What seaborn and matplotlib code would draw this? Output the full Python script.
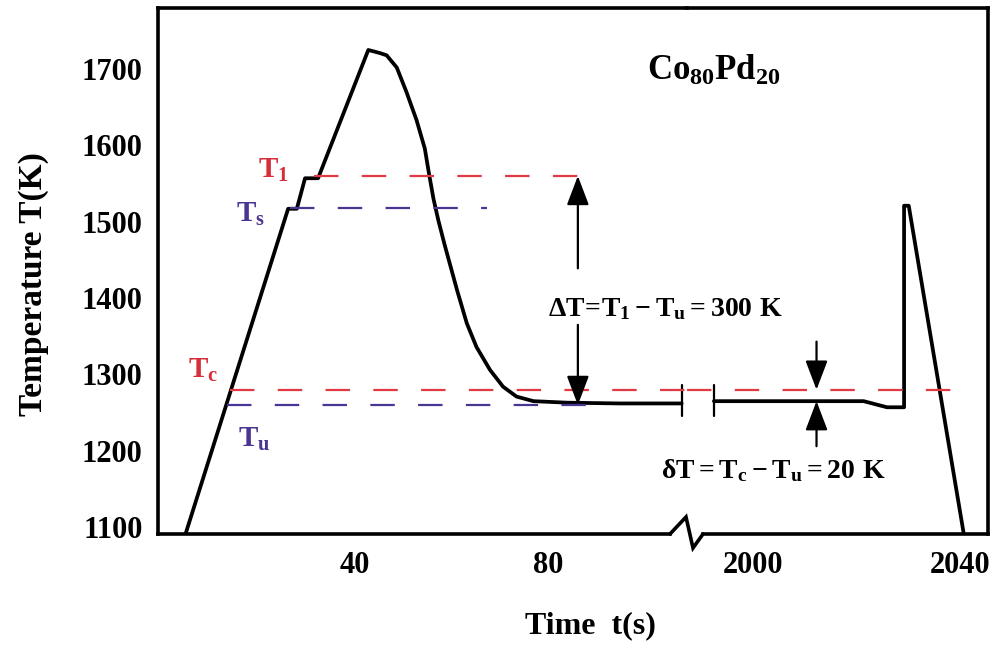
import numpy as np
import pandas as pd
import matplotlib
matplotlib.use("Agg")
import matplotlib.pyplot as plt
import seaborn as sns
from matplotlib.lines import Line2D

# ---------------- data ----------------
# heating / undercooling part (left panel, seconds)
t_heat = [4.8, 26.2, 28.0, 29.7, 32.4, 42.8, 45.2, 46.6, 48.7, 50.7, 52.8, 54.5,
          55.4, 56.3, 57.3, 58.6, 59.9, 61.2, 63.2, 65.2, 68.0, 70.7, 73.5, 77.0,
          84.0, 95.0, 107.7]
T_heat = [1088, 1517, 1517, 1557, 1557, 1725, 1721, 1718, 1702, 1670, 1633, 1596,
          1562, 1530, 1502, 1470, 1440, 1410, 1367, 1336, 1306, 1284, 1271, 1265,
          1263, 1262, 1262]
# long hold, recalescence and final cooling (right panel)
t_hold = [1992.5, 2021.4, 2025.9, 2029.2, 2029.2, 2030.1, 2040.8]
T_hold = [1265, 1265, 1257, 1257, 1521, 1521, 1088]

# break marks drawn on the curve
t_break_left = [107.7, 107.7]
t_break_right = [1992.5, 1992.5]
T_break = [1246, 1286]

# characteristic temperatures
T1, Ts, Tc, Tu = 1560, 1518, 1280, 1260
T1_span = [31.5, 87.7]
Ts_span = [26.6, 67.3]
Tc_span_left = [14.2, 108.8]
Tc_span_right = [1987.3, 2041.5]
Tu_span = [13.5, 90.0]

# arrows
t_dT = 86.2
dT_up = [1439, T1]
dT_down = [1365, Tu]
t_dt = 2012.3
dt_down = [1343, Tc]
dt_up = [1206, 1265]

# axes
xlim_left = [-0.75, 108.8]
xlim_right = [1987.3, 2045.4]
ylim = [1091, 1780]
xticks_left = [20, 40, 60, 80, 100]
xticklabels_left = ["", "40", "", "80", ""]
xticks_right = [2000, 2020, 2040]
xticklabels_right = ["2000", "", "2040"]
yticks = [1100, 1200, 1300, 1400, 1500, 1600, 1700]
yticklabels = [str(v) for v in yticks]

# text
title_txt = r"$Co_{80}Pd_{20}$"
lab_T1 = r"$T_1$"
lab_Ts = r"$T_s$"
lab_Tc = r"$T_c$"
lab_Tu = r"$T_u$"
dT_txt = r"$ΔT\!=\!T_1 - T_u = 300\ K$"
dt_txt = r"$δT = T_c - T_u = 20\ K$"
xlabel_txt = "Time  t(s)"
ylabel_txt = "Temperature T(K)"

# ---------------- style ----------------
sns.set_theme(style="white")
plt.rcParams["font.family"] = ["Liberation Serif", "DejaVu Serif"]
plt.rcParams["font.weight"] = "bold"
plt.rcParams["mathtext.fontset"] = "custom"
plt.rcParams["mathtext.rm"] = "Liberation Serif:bold"
plt.rcParams["mathtext.it"] = "Liberation Serif:bold"
plt.rcParams["mathtext.bf"] = "Liberation Serif:bold"

RED = "#e13a45"
RED_T = "#d42f3a"
PURPLE = "#4a3592"
BLACK = "black"

W, H = 1004, 645
fig = plt.figure(figsize=(W / 100, H / 100), dpi=100)
fig.patch.set_facecolor("white")

def fx(px):
    return px / W

def fy(py):
    return 1 - py / H

bottom = fy(534)
height = fy(8) - fy(534)
ax1 = fig.add_axes([fx(158), bottom, fx(687) - fx(158), height])
ax2 = fig.add_axes([fx(687), bottom, fx(988) - fx(687), height])
ax1.patch.set_visible(False)
ax2.patch.set_visible(False)

df_heat = pd.DataFrame({"t": t_heat, "T": T_heat})
df_hold = pd.DataFrame({"t": t_hold, "T": T_hold})

curve_kw = dict(color=BLACK, lw=2.7, estimator=None, sort=False, legend=False)
sns.lineplot(data=df_heat, x="t", y="T", ax=ax1, **curve_kw)
sns.lineplot(data=df_hold, x="t", y="T", ax=ax2, **curve_kw)
ax1.plot(t_break_left, T_break, color=BLACK, lw=1.6)
ax2.plot(t_break_right, T_break, color=BLACK, lw=1.6)

dash_kw = dict(lw=1.6, dashes=(11, 10.5))
ax1.plot(T1_span, [T1, T1], color=RED, **dash_kw)
ax1.plot(Ts_span, [Ts, Ts], color=PURPLE, **dash_kw)
ax1.plot(Tc_span_left, [Tc, Tc], color=RED, **dash_kw)
ax2.plot(Tc_span_right, [Tc, Tc], color=RED, **dash_kw)
ax1.plot(Tu_span, [Tu, Tu], color=PURPLE, **dash_kw)

arrow_kw = dict(arrowstyle="-|>,head_length=1.0,head_width=0.38", mutation_scale=18,
                lw=1.6, color=BLACK, shrinkA=0, shrinkB=0)
ax1.annotate("", xy=(t_dT, dT_up[1]), xytext=(t_dT, dT_up[0]), arrowprops=arrow_kw)
ax1.annotate("", xy=(t_dT, dT_down[1]), xytext=(t_dT, dT_down[0]), arrowprops=arrow_kw)
ax2.annotate("", xy=(t_dt, dt_down[1]), xytext=(t_dt, dt_down[0]), arrowprops=arrow_kw)
ax2.annotate("", xy=(t_dt, dt_up[1]), xytext=(t_dt, dt_up[0]), arrowprops=arrow_kw)

# labels
ax1.text(20.0, 1558, lab_T1, color=RED_T, fontsize=21, ha="left", va="baseline")
ax1.text(15.5, 1500, lab_Ts, color=PURPLE, fontsize=21, ha="left", va="baseline")
ax1.text(5.5, 1296, lab_Tc, color=RED_T, fontsize=21, ha="left", va="baseline")
ax1.text(15.8, 1205, lab_Tu, color=PURPLE, fontsize=21, ha="left", va="baseline")
ax1.text(100.5, 1686, title_txt, color=BLACK, fontsize=25, ha="left", va="baseline")
ax1.text(104.4, 1377, dT_txt, color=BLACK, fontsize=20, ha="center", va="baseline")
ax2.text(2004.0, 1164, dt_txt, color=BLACK, fontsize=20, ha="center", va="baseline")

# axes limits, ticks
for ax in (ax1, ax2):
    ax.set_ylim(ylim)
    ax.set_xlabel("")
    ax.set_ylabel("")
    for s in ax.spines.values():
        s.set_linewidth(2.6)
        s.set_color(BLACK)
    ax.tick_params(axis="both", direction="in", length=13, width=1.6, color=BLACK,
                   labelsize=22, labelcolor=BLACK)
    ax.tick_params(axis="x", pad=12)
    ax.tick_params(axis="y", pad=11)

ax1.set_xlim(xlim_left)
ax2.set_xlim(xlim_right)
ax1.set_xticks(xticks_left)
ax1.set_xticklabels(xticklabels_left, fontweight="bold")
ax2.set_xticks(xticks_right)
ax2.set_xticklabels(xticklabels_right, fontweight="bold")
ax1.set_yticks(yticks)
ax1.set_yticklabels(yticklabels, fontweight="bold")
ax2.set_yticks([])
ax2.tick_params(axis="y", left=False, right=False)

ax1.spines["right"].set_visible(False)
ax2.spines["left"].set_visible(False)
ax1.spines["bottom"].set_bounds(xlim_left[0], 105.3)
ax2.spines["bottom"].set_bounds(1990.3, xlim_right[1])

# zig-zag axis break symbol
zz_x = [670, 686, 693, 703]
zz_y = [534, 517, 548, 534]
fig.add_artist(Line2D([fx(v) for v in zz_x], [fy(v) for v in zz_y],
                      transform=fig.transFigure, color=BLACK, lw=2.6,
                      solid_joinstyle="miter"))

fig.text(fx(590), fy(633), xlabel_txt, fontsize=23, fontweight="bold",
         ha="center", va="baseline", color=BLACK)
fig.text(fx(34), fy(284), ylabel_txt, fontsize=24, fontweight="bold",
         rotation=90, ha="center", va="center", color=BLACK)

fig.savefig("out.png", dpi=100, facecolor="white")
